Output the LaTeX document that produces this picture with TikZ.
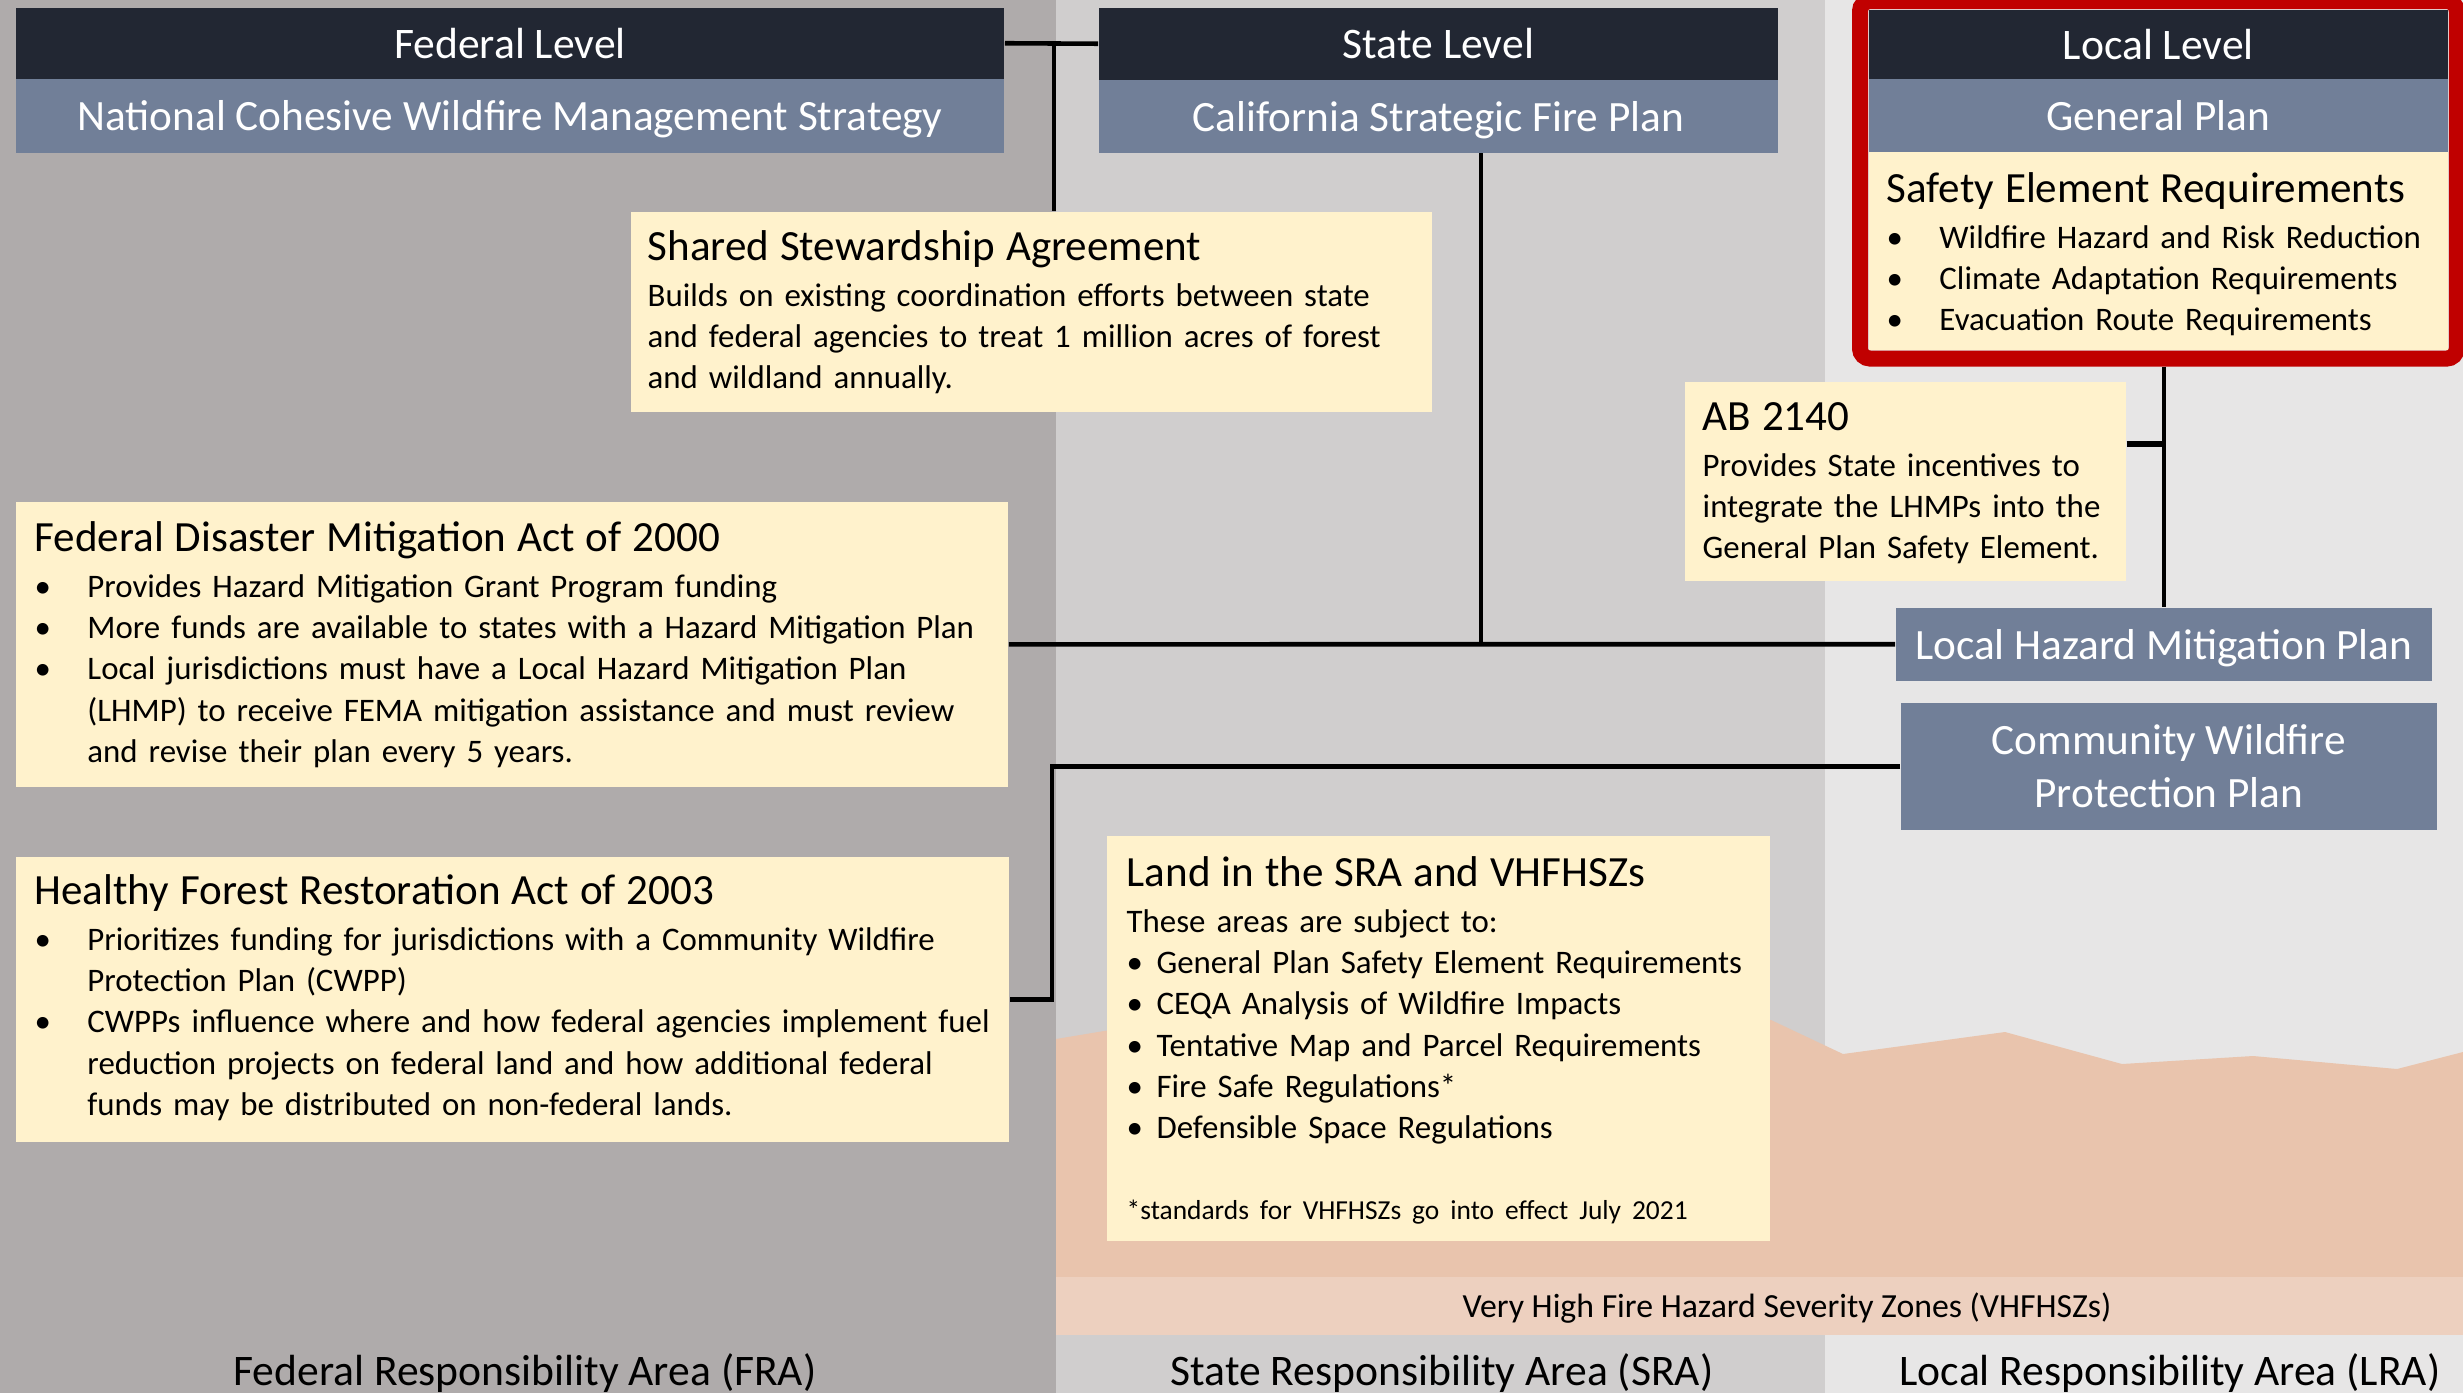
\documentclass[tikz,border=0pt]{standalone}
\usepackage{fontspec}
\setmainfont{Carlito}
\usetikzlibrary{fit}

\definecolor{fracol}{HTML}{AFABAB}
\definecolor{sracol}{HTML}{D0CECE}
\definecolor{lracol}{HTML}{E7E6E6}
\definecolor{headdark}{HTML}{222733}
\definecolor{headslate}{HTML}{717F98}
\definecolor{cardcream}{HTML}{FFF2CC}
\definecolor{firepeach}{HTML}{E9C4AD}
\definecolor{zoneband}{HTML}{EDD0BF}
\definecolor{framered}{HTML}{C00000}

\tikzset{
  levelhead/.style={fill=headdark, text=white, inner sep=0pt, anchor=north west,
      font=\fontsize{12.4}{15}\selectfont, text height=3mm, text depth=0pt},
  planhead/.style={levelhead, fill=headslate, font=\fontsize{12.3}{15}\selectfont},
  cwppbox/.style={fill=headslate, text=white, inner sep=0pt, anchor=north west,
      align=center, font=\fontsize{12.3}{15.1}\selectfont},
  card/.style={fill=cardcream, inner sep=0pt, anchor=north west},
  cardtext/.style={anchor=base west, inner sep=0pt, align=left,
      font=\fontsize{9.35}{11.75}\selectfont},
  link/.style={line width=1.3pt},
  arealabel/.style={anchor=base, inner sep=0pt, font=\fontsize{12.4}{14}\selectfont},
}

\newcommand{\cardtitle}[1]{{\fontsize{12.25}{14}\selectfont #1\par}\vspace{1.4pt}}
\newcommand{\bul}[1]{\makebox[#1][l]{\textbullet}}

\begin{document}
\begin{tikzpicture}[x=0.01cm, y=-0.01cm]
\useasboundingbox (0,0) rectangle (2463,1393);

% responsibility areas
\fill[fracol] (0,0) rectangle (1056,1393);
\fill[sracol] (1056,0) rectangle (1825,1393);
\fill[lracol] (1825,0) rectangle (2463,1393);
\fill[firepeach] (1056,1039) -- (1110,1030) -- (1771,1020) -- (1843,1054)
    -- (2005,1032) -- (2122,1064) -- (2253,1056) -- (2397,1069) -- (2463,1052)
    -- (2463,1277) -- (1056,1277) -- cycle;
\fill[zoneband] (1056,1277) rectangle (2463,1335);

% level headers
\node[levelhead, minimum width=9.88cm, minimum height=0.71cm] (fedhead) at (15,7) {Federal Level};
\node[planhead, minimum width=9.88cm, minimum height=0.74cm] (fedplan) at (15,78) {National Cohesive Wildfire Management Strategy};
\node[levelhead, minimum width=6.79cm, minimum height=0.72cm] (statehead) at (1098,7) {State Level};
\node[planhead, minimum width=6.79cm, minimum height=0.73cm] (stateplan) at (1098,79) {California Strategic Fire Plan};
\node[levelhead, minimum width=5.79cm, minimum height=0.69cm] (localhead) at (1868,9) {Local Level};
\node[planhead, minimum width=5.79cm, minimum height=0.73cm] (localplan) at (1868,78) {General Plan};

% safety element
\node[card, minimum width=5.79cm, minimum height=1.98cm] (safety) at (1868,151) {};
\node[cardtext, text width=5.6cm] (safetytxt) at ([shift={(18,51)}]safety.north west) {%
  \cardtitle{Safety Element Requirements}
  \bul{15pt}Wildfire Hazard and Risk Reduction\\
  \bul{15pt}Climate Adaptation Requirements\\
  \bul{15pt}Evacuation Route Requirements};
\node[draw=framered, line width=0.16cm, rounded corners=0.1cm, inner sep=0.08cm,
    fit=(localhead)(safety)] (localframe) {};

% shared stewardship
\node[card, minimum width=8.01cm, minimum height=2cm] (ssa) at (630,211) {};
\node[cardtext, text width=7.7cm] (ssatxt) at ([shift={(17,49)}]ssa.north west) {%
  \cardtitle{Shared Stewardship Agreement}
  Builds on existing coordination efforts between state\\
  and federal agencies to treat 1 million acres of forest\\
  and wildland annually.};

% federal acts
\node[card, minimum width=9.92cm, minimum height=2.85cm] (fdma) at (15,501) {};
\node[cardtext, text width=9.6cm] (fdmatxt) at ([shift={(19,50)}]fdma.north west) {%
  \cardtitle{Federal Disaster Mitigation Act of 2000}
  \bul{15pt}Provides Hazard Mitigation Grant Program funding\\
  \bul{15pt}More funds are available to states with a Hazard Mitigation Plan\\
  \bul{15pt}Local jurisdictions must have a Local Hazard Mitigation Plan\\
  \hspace*{15pt}(LHMP) to receive FEMA mitigation assistance and must review\\
  \hspace*{15pt}and revise their plan every 5 years.};

\node[card, minimum width=9.93cm, minimum height=2.85cm] (hfra) at (15,856) {};
\node[cardtext, text width=9.7cm] (hfratxt) at ([shift={(19,48)}]hfra.north west) {%
  \cardtitle{Healthy Forest Restoration Act of 2003}
  \bul{15pt}Prioritizes funding for jurisdictions with a Community Wildfire\\
  \hspace*{15pt}Protection Plan (CWPP)\\
  \bul{15pt}CWPPs influence where and how federal agencies implement fuel\\
  \hspace*{15pt}reduction projects on federal land and how additional federal\\
  \hspace*{15pt}funds may be distributed on non-federal lands.};

% AB 2140
\node[card, minimum width=4.41cm, minimum height=1.99cm] (ab) at (1684,381) {};
\node[cardtext, text width=4.1cm] (abtxt) at ([shift={(18,49)}]ab.north west) {%
  \cardtitle{AB 2140}
  Provides State incentives to\\
  integrate the LHMPs into the\\
  General Plan Safety Element.};

% local plans
\node[planhead, minimum width=5.36cm, minimum height=0.73cm] (lhmp) at (1895,607) {Local Hazard Mitigation Plan};
\node[cwppbox, minimum width=5.36cm, minimum height=1.27cm] (cwpp) at (1900,702) {Community Wildfire\\Protection Plan};

% land in the SRA
\node[card, minimum width=6.63cm, minimum height=4.05cm] (land) at (1106,835) {};
\node[cardtext, text width=6.3cm] (landtxt) at ([shift={(20,51)}]land.north west) {%
  \cardtitle{Land in the SRA and VHFHSZs}
  These areas are subject to:\\
  \bul{8.5pt}General Plan Safety Element Requirements\\
  \bul{8.5pt}CEQA Analysis of Wildfire Impacts\\
  \bul{8.5pt}Tentative Map and Parcel Requirements\\
  \bul{8.5pt}Fire Safe Regulations*\\
  \bul{8.5pt}Defensible Space Regulations\par
  \vspace{13.4pt}
  {\fontsize{7.8}{9.4}\selectfont *standards for VHFHSZs go into effect July 2021\par}};

% connectors
\coordinate (fedjoin) at (1054,43);
\coordinate (statejoin) at (1481,643);
\coordinate (cwjoin) at (1052,765);
\coordinate (abtick) at ([shift={(0,63)}]ab.north east);
\draw[link] (fedhead.east) -- (statehead.west);
\draw[link] (fedjoin) -- (fedjoin |- ssa.north);
\draw[link] (statejoin |- stateplan.south) -- (statejoin);
\draw[link] (fdma.east) -- (lhmp.west);
\draw[link] (lhmp.north |- localframe.south) -- (lhmp.north);
\draw[link, line width=1.8pt] (abtick) -- (abtick -| lhmp.north);
\draw[link] (cwpp.west) -- (cwjoin |- cwpp.west) |- (hfra.east);

% area labels
\node[anchor=base, inner sep=0pt, font=\fontsize{9.6}{12}\selectfont] (zonelabel) at (1787,1317) {Very High Fire Hazard Severity Zones (VHFHSZs)};
\node[arealabel] (fralabel) at (525,1385) {Federal Responsibility Area (FRA)};
\node[arealabel] (sralabel) at (1442,1385) {State Responsibility Area (SRA)};
\node[arealabel] (lralabel) at (2170,1385) {Local Responsibility Area (LRA)};
\end{tikzpicture}
\end{document}
